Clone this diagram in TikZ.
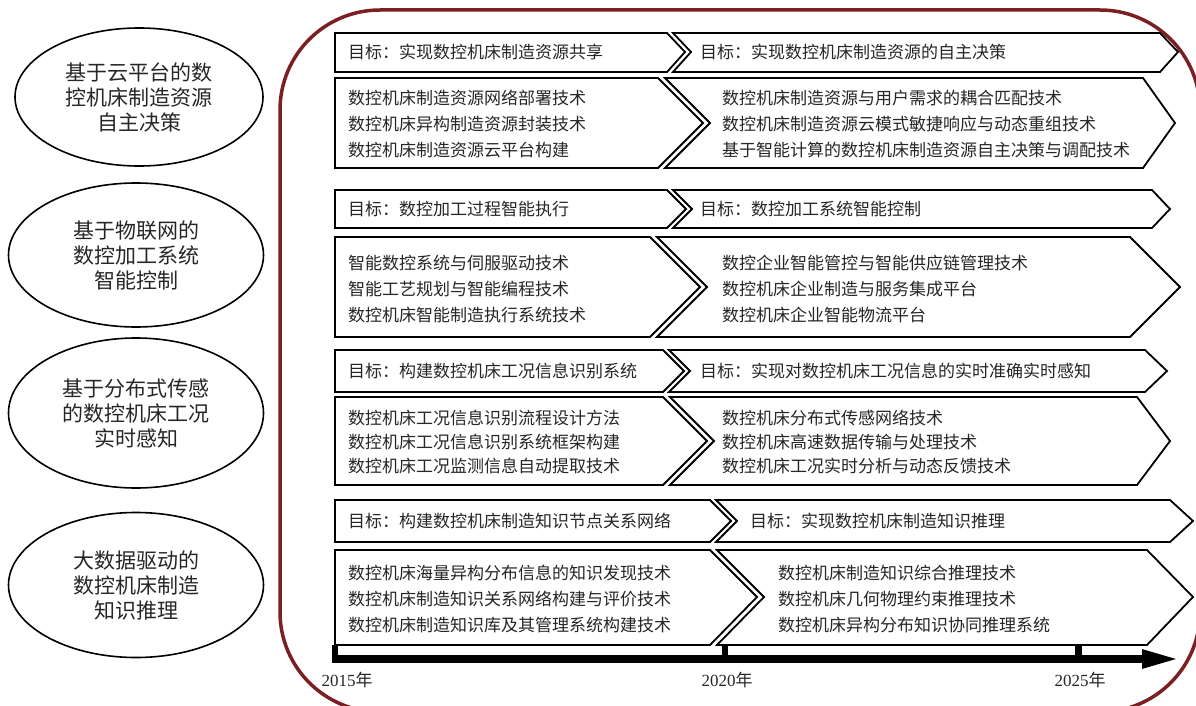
\documentclass[tikz,border=0pt]{standalone}
\usepackage{fontspec}
\setmainfont{Liberation Serif}
\newfontfamily\cjk{Noto Sans CJK SC}
\usetikzlibrary{shapes.geometric,arrows.meta}
\definecolor{framered}{HTML}{7A1F22}
\definecolor{ink}{HTML}{262626}

\begin{document}
\begin{tikzpicture}[x=1pt, y=-1pt,
  band/.style={draw=black, fill=white, line width=1.8pt, line join=miter},
  topic/.style={ellipse, draw=black, line width=1.6pt, align=center, text=ink, inner sep=0pt,
    font=\cjk\fontsize{21}{25}\selectfont},
  goal/.style={anchor=west, inner sep=0pt, text=ink, font=\cjk\fontsize{17}{26}\selectfont},
  tech/.style={anchor=west, inner sep=0pt, align=left, text=ink, font=\cjk\fontsize{17}{26}\selectfont},
  year/.style={inner sep=0pt, text=ink, font=\fontsize{17}{20}\selectfont}]
  \useasboundingbox (0,0) rectangle (1196,706);

  % outer frame
  \path[draw=framered, line width=3.5pt, rounded corners=100pt] (280,10) rectangle (1200,712);

  % research topics
  \node[topic, minimum width=248pt, minimum height=138pt] (cloud) at (139,97)
    {基于云平台的数\\控机床制造资源\\自主决策};
  \node[topic, minimum width=255pt, minimum height=144pt] (iot) at (136,255)
    {基于物联网的\\数控加工系统\\智能控制};
  \node[topic, minimum width=255pt, minimum height=150pt] (sense) at (136,413)
    {基于分布式传感\\的数控机床工况\\实时感知};
  \node[topic, minimum width=255pt, minimum height=145pt] (data) at (136,585)
    {大数据驱动的\\数控机床制造\\知识推理};

  % chevrons, row 1
  \path[band] (335,33) -- (667,33) -- (685,52) -- (667,72) -- (335,72) -- cycle;
  \path[band] (673,33) -- (1160,33) -- (1178,52) -- (1160,72) -- (673,72) -- (691,52) -- cycle;
  \path[band] (335,78) -- (658,78) -- (703,123) -- (658,168) -- (335,168) -- cycle;
  \path[band] (665,78) -- (1143,78) -- (1175,123) -- (1143,168) -- (665,168) -- (710,123) -- cycle;
  % row 2
  \path[band] (335,190) -- (667,190) -- (686,209) -- (667,228) -- (335,228) -- cycle;
  \path[band] (673,190) -- (1152,190) -- (1170,209) -- (1152,228) -- (673,228) -- (692,209) -- cycle;
  \path[band] (335,237) -- (650,237) -- (700,287) -- (650,337) -- (335,337) -- cycle;
  \path[band] (657,237) -- (1130,237) -- (1180,287) -- (1130,337) -- (657,337) -- (707,287) -- cycle;
  % row 3
  \path[band] (335,350) -- (663,350) -- (684,371) -- (663,392) -- (335,392) -- cycle;
  \path[band] (669,350) -- (1145,350) -- (1167,371) -- (1145,392) -- (669,392) -- (690,371) -- cycle;
  \path[band] (335,397) -- (663,397) -- (707,441) -- (663,485) -- (335,485) -- cycle;
  \path[band] (670,397) -- (1137,397) -- (1170,441) -- (1137,485) -- (670,485) -- (714,441) -- cycle;
  % row 4
  \path[band] (335,500) -- (710,500) -- (731,521) -- (710,542) -- (335,542) -- cycle;
  \path[band] (716,500) -- (1170,500) -- (1193,521) -- (1170,542) -- (716,542) -- (737,521) -- cycle;
  \path[band] (335,550) -- (710,550) -- (757,597) -- (710,645) -- (335,645) -- cycle;
  \path[band] (717,550) -- (1147,550) -- (1193,597) -- (1147,645) -- (717,645) -- (764,597) -- cycle;

  % goals and key technologies
  \node[goal] (goalA1) at (348,52) {目标：实现数控机床制造资源共享};
  \node[goal] (goalA2) at (700,52) {目标：实现数控机床制造资源的自主决策};
  \node[tech] (techA1) at (348,124)
    {数控机床制造资源网络部署技术\\数控机床异构制造资源封装技术\\数控机床制造资源云平台构建};
  \node[tech] (techA2) at (722,124)
    {数控机床制造资源与用户需求的耦合匹配技术\\数控机床制造资源云模式敏捷响应与动态重组技术\\基于智能计算的数控机床制造资源自主决策与调配技术};

  \node[goal] (goalB1) at (348,209) {目标：数控加工过程智能执行};
  \node[goal] (goalB2) at (700,209) {目标：数控加工系统智能控制};
  \node[tech] (techB1) at (348,289)
    {智能数控系统与伺服驱动技术\\智能工艺规划与智能编程技术\\数控机床智能制造执行系统技术};
  \node[tech] (techB2) at (722,289)
    {数控企业智能管控与智能供应链管理技术\\数控机床企业制造与服务集成平台\\数控机床企业智能物流平台};

  \node[goal] (goalC1) at (348,371) {目标：构建数控机床工况信息识别系统};
  \node[goal] (goalC2) at (700,371) {目标：实现对数控机床工况信息的实时准确实时感知};
  \node[tech, font=\cjk\fontsize{17}{24}\selectfont] (techC1) at (348,442)
    {数控机床工况信息识别流程设计方法\\数控机床工况信息识别系统框架构建\\数控机床工况监测信息自动提取技术};
  \node[tech, font=\cjk\fontsize{17}{24}\selectfont] (techC2) at (722,442)
    {数控机床分布式传感网络技术\\数控机床高速数据传输与处理技术\\数控机床工况实时分析与动态反馈技术};

  \node[goal] (goalD1) at (348,521) {目标：构建数控机床制造知识节点关系网络};
  \node[goal] (goalD2) at (750,521) {目标：实现数控机床制造知识推理};
  \node[tech] (techD1) at (348,599)
    {数控机床海量异构分布信息的知识发现技术\\数控机床制造知识关系网络构建与评价技术\\数控机床制造知识库及其管理系统构建技术};
  \node[tech] (techD2) at (778,599)
    {数控机床制造知识综合推理技术\\数控机床几何物理约束推理技术\\数控机床异构分布知识协同推理系统};

  % time axis
  \coordinate (t2015) at (332,659);
  \coordinate (tEnd) at (1180,659);
  \draw[line width=8pt, -{Triangle[length=38pt,width=17pt]}] (t2015) -- (tEnd);
  \fill (332,645) rectangle (338,663);
  \fill (722,645) rectangle (728,659);
  \fill (1075,645) rectangle (1082,659);
  \node[year] (y2015) at (347,680) {2015{\cjk 年}};
  \node[year] (y2020) at (727,680) {2020{\cjk 年}};
  \node[year] (y2025) at (1080,680) {2025{\cjk 年}};
\end{tikzpicture}
\end{document}
